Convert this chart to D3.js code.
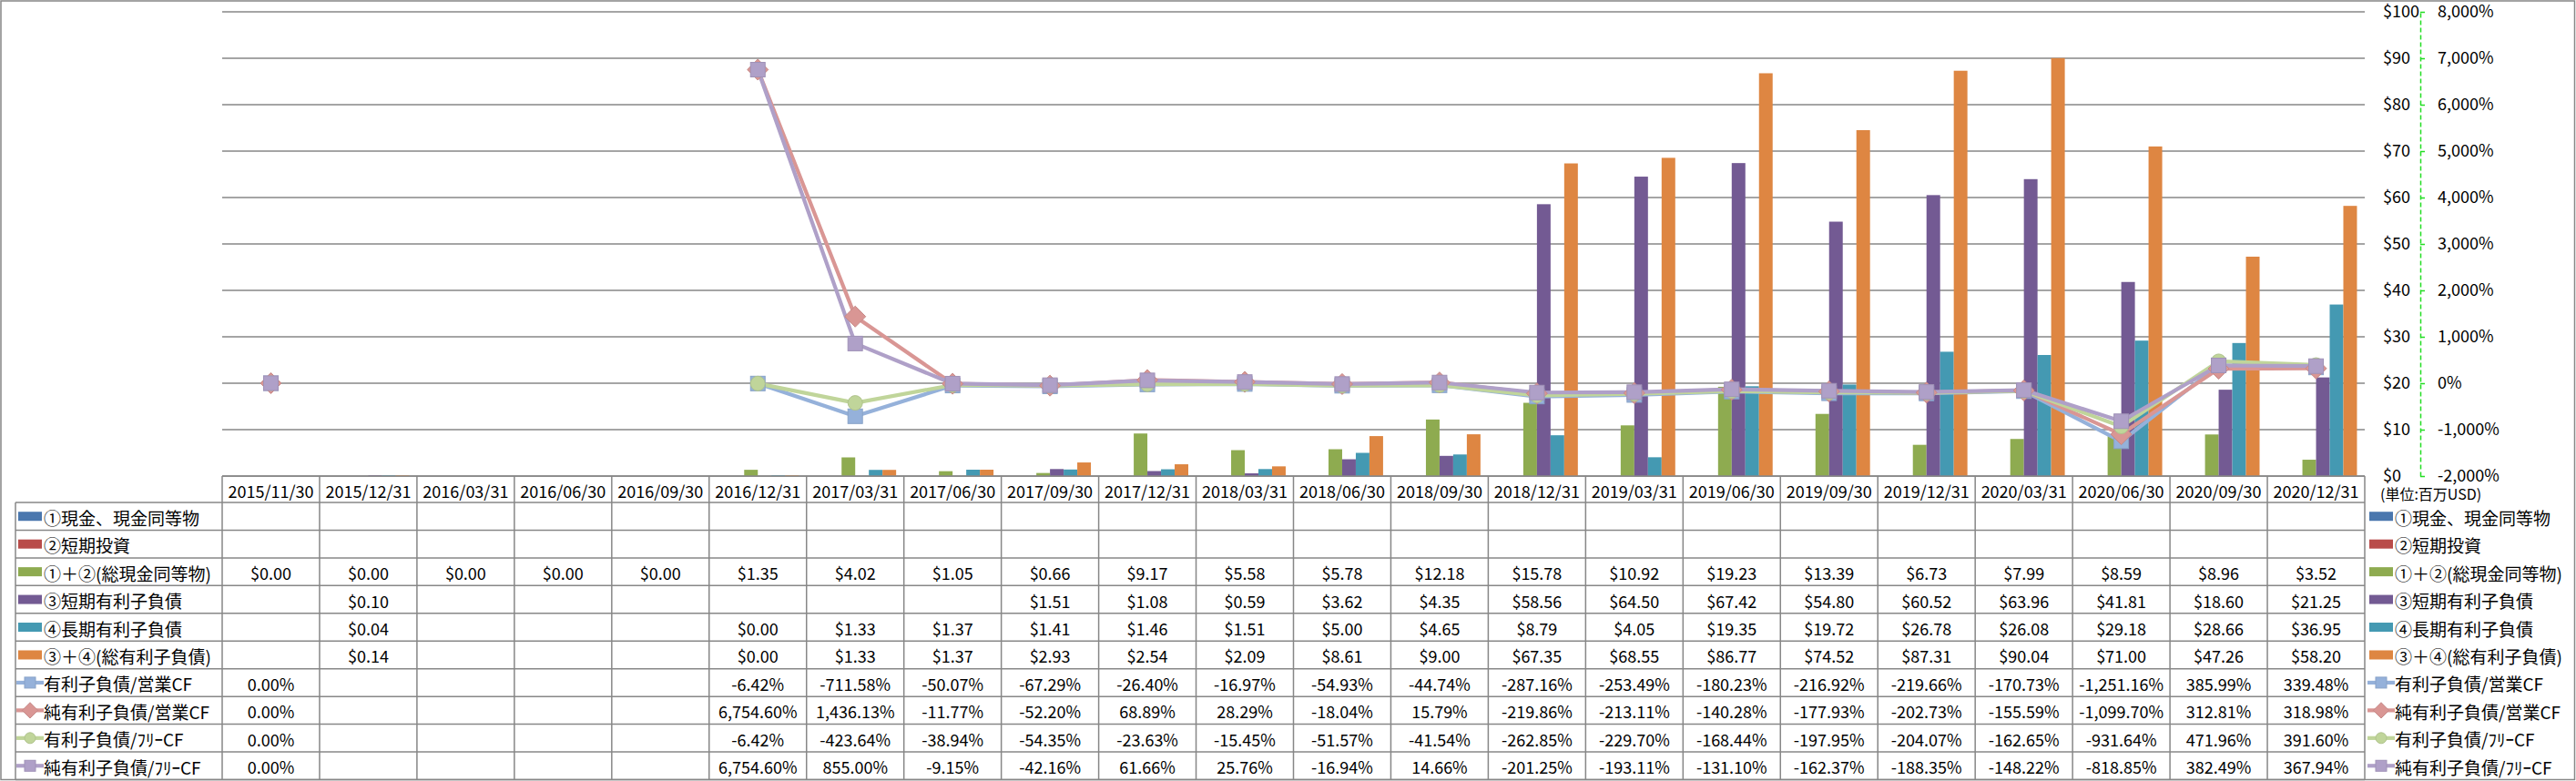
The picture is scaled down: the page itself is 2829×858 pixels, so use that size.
<!DOCTYPE html>
<html><head><meta charset="utf-8">
<script src="https://cdn.jsdelivr.net/npm/d3@7"></script>
<style>
body{margin:0;background:#fff}
svg{display:block}
text{font-family:"Noto Sans CJK JP","Noto Sans",sans-serif;fill:#000}
</style>
</head><body>
<svg id="c" width="2829" height="858"></svg>
<script>
// ---------- DATA ----------
const categories = ["2015/11/30","2015/12/31","2016/03/31","2016/06/30","2016/09/30","2016/12/31","2017/03/31","2017/06/30","2017/09/30","2017/12/31","2018/03/31","2018/06/30","2018/09/30","2018/12/31","2019/03/31","2019/06/30","2019/09/30","2019/12/31","2020/03/31","2020/06/30","2020/09/30","2020/12/31"];

const barNames = ["①現金、現金同等物","②短期投資","①＋②(総現金同等物)","③短期有利子負債","④長期有利子負債","③＋④(総有利子負債)"];
const lineNames = ["有利子負債/営業CF","純有利子負債/営業CF","有利子負債/ﾌﾘｰCF","純有利子負債/ﾌﾘｰCF"];

const cashEq     = [null,null,null,null,null,null,null,null,null,null,null,null,null,null,null,null,null,null,null,null,null,null];
const shortInv   = [null,null,null,null,null,null,null,null,null,null,null,null,null,null,null,null,null,null,null,null,null,null];
const totalCash  = [0.00,0.00,0.00,0.00,0.00,1.35,4.02,1.05,0.66,9.17,5.58,5.78,12.18,15.78,10.92,19.23,13.39,6.73,7.99,8.59,8.96,3.52];
const shortDebt  = [null,0.10,null,null,null,null,null,null,1.51,1.08,0.59,3.62,4.35,58.56,64.50,67.42,54.80,60.52,63.96,41.81,18.60,21.25];
const longDebt   = [null,0.04,null,null,null,0.004,1.33,1.37,1.41,1.46,1.51,5.00,4.65,8.79,4.05,19.35,19.72,26.78,26.08,29.18,28.66,36.95];
const totalDebt  = [null,0.14,null,null,null,0.004,1.33,1.37,2.93,2.54,2.09,8.61,9.00,67.35,68.55,86.77,74.52,87.31,90.04,71.00,47.26,58.20];

const debtOpCF    = [0.00,null,null,null,null,-6.42,-711.58,-50.07,-67.29,-26.40,-16.97,-54.93,-44.74,-287.16,-253.49,-180.23,-216.92,-219.66,-170.73,-1251.16,385.99,339.48];
const netDebtOpCF = [0.00,null,null,null,null,6754.60,1436.13,-11.77,-52.20,68.89,28.29,-18.04,15.79,-219.86,-213.11,-140.28,-177.93,-202.73,-155.59,-1099.70,312.81,318.98];
const debtFCF     = [0.00,null,null,null,null,-6.42,-423.64,-38.94,-54.35,-23.63,-15.45,-51.57,-41.54,-262.85,-229.70,-168.44,-197.95,-204.07,-162.65,-931.64,471.96,391.60];
const netDebtFCF  = [0.00,null,null,null,null,6754.60,855.00,-9.15,-42.16,61.66,25.76,-16.94,14.66,-201.25,-193.11,-131.10,-162.37,-188.35,-148.22,-818.85,382.49,367.94];

const leftTicks  = [0,10,20,30,40,50,60,70,80,90,100];
const rightTicks = [-2000,-1000,0,1000,2000,3000,4000,5000,6000,7000,8000];
const unitLabel = "(単位:百万USD)";

// ---------- STYLE ----------
const barColors  = ["#4A77AE","#B94C4A","#8EAB50","#735A93","#4499B2","#DE8642"];
const lineColors = ["#95B1DA","#D99694","#C0D59A","#AFA0C8"];
const markerTypes = ["square","diamond","circle","square"];
const gridColor = "#878787";

const svg = d3.select("#c");
const W = 2829, H = 858;
const plotL = 244, plotR = 2597, plotT = 13, plotB = 523;
const rowH = 30.45, headerB = 552;

const barData = [cashEq, shortInv, totalCash, shortDebt, longDebt, totalDebt];
const lineData = [debtOpCF, netDebtOpCF, debtFCF, netDebtFCF];

const x = d3.scaleBand().domain(categories).range([plotL, plotR]);
const xs = d3.scaleBand().domain(d3.range(barNames.length)).range([0, x.bandwidth()]).paddingOuter(0.57);
const yL = d3.scaleLinear().domain([0,100]).range([plotB, plotT]);
const yR = d3.scaleLinear().domain([-2000,8000]).range([plotB, plotT]);

const hy = s => s.replace(/\u2212/g,"-");

// outer border
svg.append("rect").attr("x",1).attr("y",1).attr("width",W-2.5).attr("height",H-2.5)
  .attr("fill","none").attr("stroke",gridColor).attr("stroke-width",1.5);

// gridlines
svg.append("g").selectAll("line").data(leftTicks).join("line")
  .attr("x1",plotL).attr("x2",plotR)
  .attr("y1",d=>yL(d)).attr("y2",d=>yL(d))
  .attr("stroke",gridColor).attr("stroke-width",1.3);

// bars
const bars = svg.append("g");
barData.forEach((arr,si)=>{
  bars.append("g").selectAll("rect").data(arr.map((v,i)=>({v,c:categories[i]})).filter(d=>d.v!=null && d.v>0))
    .join("rect")
    .attr("x",d=>x(d.c)+xs(si))
    .attr("width",xs.bandwidth())
    .attr("y",d=>Math.min(yL(d.v), plotB-1))
    .attr("height",d=>Math.max(plotB-yL(d.v),1))
    .attr("fill",barColors[si]);
});

function marker(g, type, color, cx, cy, s){
  if(type==="square"){
    g.append("rect").attr("x",cx-s/2).attr("y",cy-s/2).attr("width",s).attr("height",s)
      .attr("fill",color).attr("stroke",d3.color(color).darker(0.25)).attr("stroke-width",1);
  } else if(type==="diamond"){
    const r = s*0.72;
    g.append("path").attr("d",`M${cx},${cy-r}L${cx+r},${cy}L${cx},${cy+r}L${cx-r},${cy}Z`)
      .attr("fill",color).attr("stroke",d3.color(color).darker(0.25)).attr("stroke-width",1);
  } else {
    g.append("circle").attr("cx",cx).attr("cy",cy).attr("r",s/2)
      .attr("fill",color).attr("stroke",d3.color(color).darker(0.25)).attr("stroke-width",1);
  }
}

// lines
const linesG = svg.append("g");
lineData.forEach((arr,si)=>{
  const pts = arr.map((v,i)=>({v,c:categories[i]}));
  const line = d3.line().defined(d=>d.v!=null).x(d=>x(d.c)+x.bandwidth()/2).y(d=>yR(d.v));
  linesG.append("path").attr("d",line(pts)).attr("fill","none")
    .attr("stroke",lineColors[si]).attr("stroke-width",4.2).attr("stroke-linejoin","round");
});
lineData.forEach((arr,si)=>{
  const mg = linesG.append("g");
  arr.forEach((v,i)=>{
    if(v==null) return;
    marker(mg, markerTypes[si], lineColors[si], x(categories[i])+x.bandwidth()/2, yR(v), 16);
  });
});

// axes (right side)
const axX = 2658;
const axL = svg.append("g").attr("transform",`translate(2617,0)`)
  .call(d3.axisRight(yL).tickValues(leftTicks).tickSize(0).tickPadding(0).tickFormat(d=>"$"+d));
axL.select(".domain").remove();
axL.selectAll("text").attr("font-size",18).attr("fill","#000").attr("text-anchor","start")
  .style("font-family",'"Noto Sans CJK JP","Noto Sans",sans-serif');

const axR = svg.append("g").attr("transform",`translate(${axX},0)`)
  .call(d3.axisRight(yR).tickValues(rightTicks).tickSize(5).tickSizeOuter(0).tickPadding(14)
    .tickFormat(d=>hy(d3.format(",")(d))+"%"));
axR.select(".domain").attr("stroke","#22dd22").attr("stroke-width",1.5).attr("stroke-dasharray","5,3");
axR.selectAll(".tick line").attr("stroke","#22dd22").attr("stroke-width",1.5);
axR.selectAll("text").attr("font-size",18).style("font-family",'"Noto Sans CJK JP","Noto Sans",sans-serif')
  .attr("fill",d=>d<0?"#ff0000":"#000");

// unit label
svg.append("text").attr("x",2614).attr("y",542).attr("dominant-baseline","central")
  .attr("font-size",16).text(unitLabel);

// ---------- DATA TABLE ----------
const tbl = svg.append("g");
const nRows = barNames.length + lineNames.length;
tbl.selectAll("text.hdr").data(categories).join("text").attr("class","hdr")
  .attr("x",d=>x(d)+x.bandwidth()/2).attr("y",(plotB+headerB)/2+1)
  .attr("text-anchor","middle").attr("dominant-baseline","central").attr("font-size",18).text(d=>d);
tbl.append("line").attr("x1",plotL).attr("x2",plotR).attr("y1",plotB).attr("y2",plotB)
  .attr("stroke",gridColor).attr("stroke-width",1.5);
tbl.selectAll("line.h").data(d3.range(nRows+1)).join("line").attr("class","h")
  .attr("x1",17).attr("x2",plotR)
  .attr("y1",d=>headerB+d*rowH).attr("y2",d=>headerB+d*rowH)
  .attr("stroke",gridColor).attr("stroke-width",1.5);
tbl.selectAll("line.v").data(categories.concat(["__end"])).join("line").attr("class","v")
  .attr("x1",(d,i)=>plotL+i*x.bandwidth()).attr("x2",(d,i)=>plotL+i*x.bandwidth())
  .attr("y1",plotB).attr("y2",H-1)
  .attr("stroke",gridColor).attr("stroke-width",1.5);
tbl.append("line").attr("x1",17).attr("x2",17).attr("y1",headerB).attr("y2",H-1)
  .attr("stroke",gridColor).attr("stroke-width",1.5);

const fmtD = v=> v==null ? "" : "$"+d3.format(".2f")(v);
const fmtP = v=> v==null ? "" : hy(d3.format(",.2f")(v))+"%";
const allRows = barData.map(a=>a.map(fmtD)).concat(lineData.map(a=>a.map(fmtP)));
allRows.forEach((row,ri)=>{
  tbl.append("g").selectAll("text").data(row).join("text")
    .attr("x",(d,i)=>x(categories[i])+x.bandwidth()/2)
    .attr("y",headerB+ri*rowH+rowH/2+1)
    .attr("text-anchor","middle").attr("dominant-baseline","central").attr("font-size",18).text(d=>d);
});

function legendKey(g, ri, lx, tx){
  const cy = headerB+ri*rowH+rowH/2;
  if(ri < barNames.length){
    g.append("rect").attr("x",lx+2).attr("y",cy-5).attr("width",26).attr("height",10).attr("fill",barColors[ri]);
    g.append("text").attr("x",tx).attr("y",cy+1).attr("dominant-baseline","central").attr("font-size",19).text(barNames[ri]);
  } else {
    const li = ri - barNames.length;
    g.append("line").attr("x1",lx).attr("x2",lx+30).attr("y1",cy).attr("y2",cy)
      .attr("stroke",lineColors[li]).attr("stroke-width",4.2);
    marker(g, markerTypes[li], lineColors[li], lx+15, cy, 12);
    g.append("text").attr("x",tx).attr("y",cy+1).attr("dominant-baseline","central").attr("font-size",19).text(lineNames[li]);
  }
}
const lg = svg.append("g");
d3.range(nRows).forEach(ri=>{
  legendKey(lg, ri, 18, 48);
  legendKey(lg, ri, 2600, 2630);
});
</script>
</body></html>
